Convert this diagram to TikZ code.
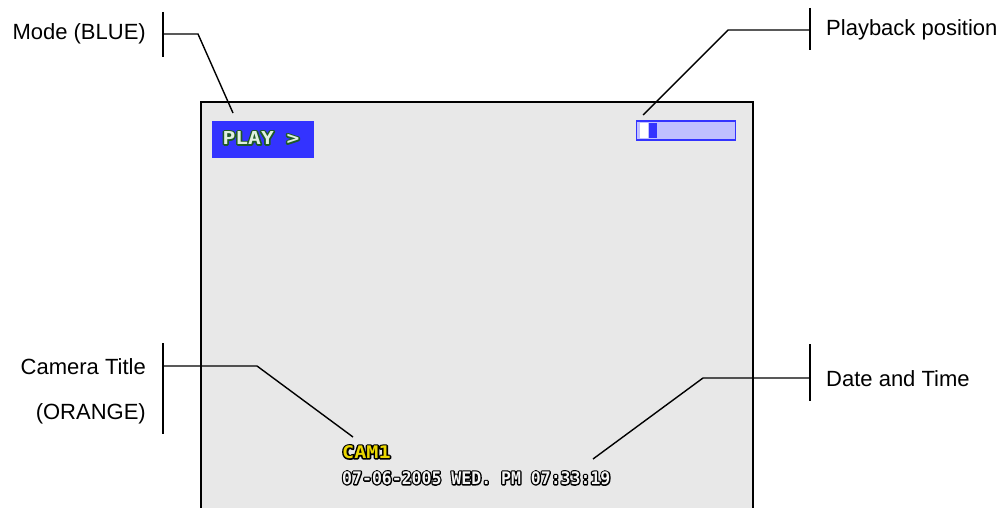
\documentclass[tikz,border=0pt]{standalone}
\usepackage{fontspec}
\setmainfont{Liberation Sans}
\newfontfamily\osdfont{DejaVu Sans Mono}
\usepackage{graphicx}
\definecolor{screenbg}{RGB}{232,232,232}
\definecolor{osdblue}{RGB}{51,51,255}
\definecolor{barfill}{RGB}{192,192,255}
\definecolor{playfill}{RGB}{225,240,225}
\definecolor{playline}{RGB}{30,90,40}
\definecolor{camyellow}{RGB}{235,215,0}
\definecolor{datefill}{RGB}{245,245,245}
% #1: outline colour, #2: fill colour, #3: text  (stroked copy beneath, filled copy on top)
\newcommand\osdtxt[3]{\leavevmode
  \rlap{\textcolor{#1}{\special{pdf:literal direct 1 Tr 2.6 w 1 j}#3\special{pdf:literal direct 0 Tr 0 j}}}%
  \textcolor{#2}{#3}}
\tikzset{
  lbl/.style={font=\fontsize{22}{26}\selectfont, inner sep=0pt},
  conn/.style={line width=1.4pt, black},
  tickbar/.style={line width=1.4pt, black},
  osd/.style={inner sep=0pt, font=\osdfont\bfseries\fontsize{16.5}{18}\selectfont}
}
\begin{document}
\begin{tikzpicture}[x=1pt,y=-1pt]
\useasboundingbox (0,0) rectangle (1008,508);
% screen
\fill[screenbg] (201,102) rectangle (753,508);
\draw[line width=2.2pt] (201,508) -- (201,102) -- (753,102) -- (753,508);
% OSD elements
\node[fill=osdblue, minimum width=102pt, minimum height=37pt, inner sep=0pt] (playbox) at (263,139.5) {};
\node[osd, font=\osdfont\bfseries\fontsize{17}{18}\selectfont] (playtxt) at (261,138) {\scalebox{1.25}[1.05]{\osdtxt{playline}{playfill}{PLAY >}}};
\node[draw=osdblue, fill=barfill, line width=1.5pt, minimum width=99pt, minimum height=19pt, inner sep=0pt] (bar) at (686,130.5) {};
\fill[white] (639.5,123) rectangle (648,138);
\node[fill=osdblue, minimum width=8pt, minimum height=15pt, inner sep=0pt] (pos) at (653,130.5) {};
\node[osd, anchor=west] (cam) at (342,452) {\scalebox{1.22}[1.05]{\osdtxt{black}{camyellow}{CAM1}}};
\node[osd, anchor=west] (date) at (342,478) {\scalebox{1}[1.05]{\osdtxt{black}{datefill}{07-06-2005 WED. PM 07:33:19}}};
% labels
\node[lbl, anchor=east] (mode) at (146,34) {Mode (BLUE)};
\node[lbl, anchor=west] (playback) at (826,30) {Playback position};
\node[lbl, anchor=east] (camt) at (146,367) {Camera Title};
\node[lbl, anchor=east] (camo) at (146,414) {(ORANGE)};
\node[lbl, anchor=west] (dt) at (826,379) {Date and Time};
% bars
\coordinate (mb1) at (163,12); \coordinate (mb2) at (163,57);
\coordinate (pb1) at (810,8); \coordinate (pb2) at (810,50);
\coordinate (cb1) at (163,343); \coordinate (cb2) at (163,434);
\coordinate (db1) at (810,344); \coordinate (db2) at (810,401);
\draw[tickbar] (mb1) -- (mb2);
\draw[tickbar] (pb1) -- (pb2);
\draw[tickbar] (cb1) -- (cb2);
\draw[tickbar] (db1) -- (db2);
% connectors
\coordinate (mstart) at (163,34); \coordinate (melbow) at (198,34); \coordinate (mend) at (233,113);
\coordinate (pstart) at (810,30); \coordinate (pelbow) at (728,30); \coordinate (pend) at (643,115);
\coordinate (cstart) at (163,366); \coordinate (celbow) at (257,366); \coordinate (cend) at (353,437);
\coordinate (dstart) at (810,378); \coordinate (delbow) at (703,378); \coordinate (dend) at (593,459);
\draw[conn] (mstart) -- (melbow) -- (mend);
\draw[conn] (pstart) -- (pelbow) -- (pend);
\draw[conn] (cstart) -- (celbow) -- (cend);
\draw[conn] (dstart) -- (delbow) -- (dend);
\end{tikzpicture}
\end{document}
